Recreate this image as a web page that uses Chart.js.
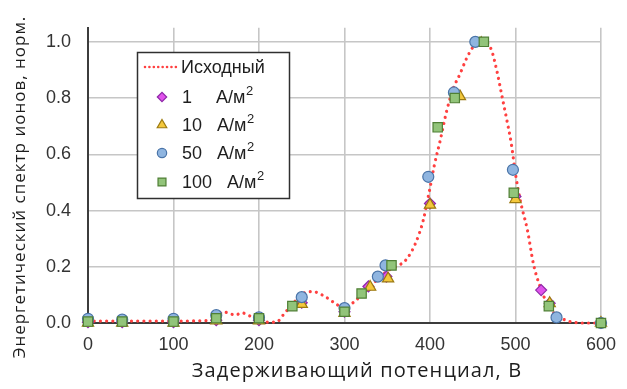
<!DOCTYPE html>
<html>
<head>
<meta charset="utf-8">
<script src="https://cdn.jsdelivr.net/npm/chart.js@4.4.1/dist/chart.umd.min.js"></script>
<style>
  html, body { margin: 0; padding: 0; background: #ffffff; }
  #wrap { width: 627px; height: 389px; }
</style>
</head>
<body>
<div id="wrap"><canvas id="c" width="627" height="389"></canvas></div>
<script>
// Axis ticks
const xTicks = [0, 100, 200, 300, 400, 500, 600];
const yTicks = [0, 0.2, 0.4, 0.6, 0.8, 1.0];

// Initial spectrum (dotted curve): retarding potential, V / normalized intensity
const baseV = [0, 50, 100, 150, 157, 165, 172, 180, 190, 200, 210, 220, 230, 240, 252, 262, 275, 290, 300, 310, 320, 335, 350, 360, 372, 383, 392, 397, 400, 405, 412, 420, 428, 435, 442, 450, 458, 465, 472, 478, 484, 490, 495, 500, 506, 514, 521, 529, 537, 545, 555, 565, 580, 600];
const baseI = [0.007, 0.007, 0.007, 0.01, 0.04, 0.035, 0.028, 0.036, 0.024, 0.012, 0.003, 0.003, 0.035, 0.07, 0.105, 0.112, 0.098, 0.068, 0.05, 0.072, 0.1, 0.145, 0.185, 0.2, 0.225, 0.283, 0.364, 0.435, 0.48, 0.56, 0.65, 0.76, 0.84, 0.885, 0.936, 0.98, 1.0, 1.0, 0.97, 0.9, 0.81, 0.72, 0.64, 0.53, 0.43, 0.33, 0.21, 0.127, 0.07, 0.035, 0.015, 0.004, 0.0, 0.0];

// Spectra after treatment at different current densities
const v1 = [0, 40, 100, 150, 200, 250, 300, 328, 349, 400, 500, 530, 540, 600];
const i1 = [0.003, 0.003, 0.003, 0.01, 0.01, 0.072, 0.04, 0.13, 0.165, 0.425, 0.45, 0.117, 0.07, 0.0];

const v10 = [0, 40, 100, 150, 200, 250, 300, 330, 351, 400, 435, 460, 500, 540, 600];
const i10 = [0.0, 0.0, 0.0, 0.008, 0.008, 0.067, 0.035, 0.128, 0.158, 0.42, 0.806, 0.995, 0.44, 0.07, 0.0];

const v50 = [0, 40, 100, 150, 200, 250, 300, 339, 348, 398, 428, 453, 497, 548, 600];
const i50 = [0.015, 0.012, 0.015, 0.028, 0.02, 0.092, 0.053, 0.165, 0.205, 0.52, 0.82, 1.0, 0.545, 0.02, 0.0];

const v100 = [0, 40, 100, 150, 200, 239, 300, 320, 355, 409, 429, 463, 498, 539, 600];
const i100 = [0.005, 0.005, 0.005, 0.017, 0.017, 0.06, 0.04, 0.105, 0.205, 0.696, 0.80, 1.0, 0.463, 0.06, 0.0];

// Labels
const seriesNames = ['Исходный', '1', '10', '50', '100'];
const unitText = 'А/м';
const unitPower = '2';
const xTitle = 'Задерживающий потенциал, В';
const yTitle = 'Энергетический спектр ионов, норм.';

const FONT = "'Liberation Sans', Arial, sans-serif";
const TITLE_FONT = "'Open Sans', 'Liberation Sans', sans-serif";
const pairs = (xs, ys) => xs.map((x, k) => ({ x: x, y: ys[k] }));

const markerSets = [
  { name: seriesNames[1], data: pairs(v1, i1), style: 'rectRot', r: 5.5, fill: '#e152ec', edge: '#8e2aa8', order: 4 },
  { name: seriesNames[2], data: pairs(v10, i10), style: 'triangle', r: 6.5, fill: '#f4c83c', edge: '#9c7a10', order: 3 },
  { name: seriesNames[3], data: pairs(v50, i50), style: 'circle', r: 5.5, fill: '#8fb5e0', edge: '#4a74a8', order: 2 },
  { name: seriesNames[4], data: pairs(v100, i100), style: 'rect', r: 6.6, fill: '#92c47a', edge: '#4f7f35', order: 1 }
];

const DOT_DASH = [0.01, 6.2];

const datasets = [{
  label: seriesNames[0],
  data: pairs(baseV, baseI),
  showLine: true,
  borderColor: '#ff4040',
  borderWidth: 3.2,
  borderDash: DOT_DASH,
  borderCapStyle: 'round',
  cubicInterpolationMode: 'monotone',
  pointRadius: 0,
  fill: false,
  clip: false,
  order: 5
}].concat(markerSets.map(s => ({
  label: s.name,
  data: s.data,
  showLine: false,
  pointStyle: s.style,
  pointRadius: s.r,
  pointHoverRadius: s.r,
  pointBackgroundColor: s.fill,
  pointBorderColor: s.edge,
  pointBorderWidth: 1.2,
  clip: false,
  order: s.order
})));

// Legend box drawn inside the plot area
const legendBox = {
  id: 'legendBox',
  afterDraw(chart) {
    const ctx = chart.ctx;
    const L = 137.5, T = 52.5, W = 152, H = 146;
    ctx.save();
    ctx.fillStyle = '#ffffff';
    ctx.fillRect(L, T, W, H);
    ctx.strokeStyle = '#303030';
    ctx.lineWidth = 1.5;
    ctx.strokeRect(L, T, W, H);

    const rows = [67, 97, 125, 153, 182];
    ctx.font = '18px ' + FONT;
    ctx.fillStyle = '#1e1e1e';
    ctx.textBaseline = 'middle';

    // dotted sample for the initial spectrum
    ctx.save();
    ctx.strokeStyle = '#ff4040';
    ctx.lineWidth = 2.6;
    ctx.lineCap = 'round';
    ctx.setLineDash([0.01, 4.4]);
    ctx.beginPath();
    ctx.moveTo(145, rows[0]);
    ctx.lineTo(179, rows[0]);
    ctx.stroke();
    ctx.restore();
    ctx.fillText(seriesNames[0], 181, rows[0] + 1);

    markerSets.forEach((s, k) => {
      const y = rows[k + 1];
      ctx.save();
      ctx.fillStyle = s.fill;
      ctx.strokeStyle = s.edge;
      ctx.lineWidth = 1.2;
      Chart.helpers.drawPoint(ctx, { pointStyle: s.style, radius: s.r * 0.85, borderWidth: 1.2, rotation: 0 }, 162, y);
      ctx.restore();
      ctx.fillStyle = '#1e1e1e';
      ctx.font = '18px ' + FONT;
      ctx.fillText(s.name, 182, y + 1);
      const numEnd = 182 + ctx.measureText(s.name).width;
      const ux = Math.max(216, numEnd + 15);
      ctx.fillText(unitText, ux, y + 1);
      const uEnd = ux + ctx.measureText(unitText).width;
      ctx.font = '13px ' + FONT;
      ctx.fillText(unitPower, uEnd + 0.5, y - 6);
    });
    ctx.restore();
  }
};

// Axis titles
const axisTitles = {
  id: 'axisTitles',
  afterDraw(chart) {
    const ctx = chart.ctx;
    ctx.save();
    ctx.fillStyle = '#1c1c1c';
    ctx.textAlign = 'center';
    ctx.textBaseline = 'middle';
    ctx.font = '20px ' + TITLE_FONT;
    ctx.letterSpacing = '1.1px';
    ctx.fillText(xTitle, 357, 371);
    ctx.font = '17px ' + TITLE_FONT;
    ctx.letterSpacing = '1px';
    ctx.translate(20, 187);
    ctx.rotate(-Math.PI / 2);
    ctx.fillText(yTitle, 0, 0);
    ctx.restore();
  }
};

const gridStyle = { color: '#c6c6c6', lineWidth: 1.6, drawTicks: false };
const borderStyle = { display: true, color: '#3c3c3c', width: 2 };

new Chart(document.getElementById('c'), {
  type: 'scatter',
  data: { datasets: datasets },
  options: {
    responsive: false,
    animation: false,
    devicePixelRatio: 1,
    layout: { padding: { top: 25, right: 19, left: 0, bottom: 0 } },
    plugins: { legend: { display: false }, tooltip: { enabled: false } },
    scales: {
      x: {
        type: 'linear',
        min: 0, max: 600,
        afterBuildTicks: s => { s.ticks = xTicks.map(v => ({ value: v })); },
        afterFit: s => { s.height = 66; },
        ticks: { color: '#333333', font: { family: FONT, size: 18 }, padding: 11, maxRotation: 0, autoSkip: false },
        grid: gridStyle,
        border: borderStyle
      },
      y: {
        type: 'linear',
        min: 0, max: 1.05,
        afterBuildTicks: s => { s.ticks = yTicks.map(v => ({ value: v })); },
        afterFit: s => { s.width = 88; },
        ticks: { color: '#333333', font: { family: FONT, size: 18 }, padding: 17, callback: v => Number(v).toFixed(1) },
        grid: gridStyle,
        border: borderStyle
      }
    }
  },
  plugins: [legendBox, axisTitles]
});
</script>
</body>
</html>
